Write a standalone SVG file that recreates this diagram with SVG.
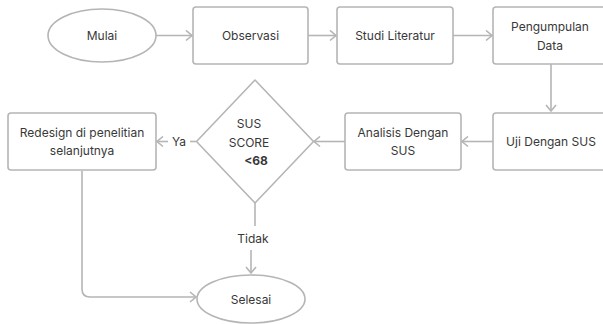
<svg xmlns="http://www.w3.org/2000/svg" width="603" height="324" viewBox="0 0 603 324">
  <style>
    .shape { fill: #ffffff; stroke: #b5b5b5; stroke-width: 1.6; }
    .edge { fill: none; stroke: #b5b5b5; stroke-width: 1.6; }
    .label { font-family: Inter, "Liberation Sans", sans-serif; font-size: 12px; fill: #383838; text-anchor: middle; }
    .bold { font-weight: 700; }
  </style>
  <defs>
    <marker id="chevron" viewBox="0 0 10 12" refX="9" refY="6" markerWidth="10" markerHeight="12" markerUnits="userSpaceOnUse" orient="auto">
      <path d="M3,1 L9,6 L3,11" fill="none" stroke="#b5b5b5" stroke-width="1.6"/>
    </marker>
  </defs>
  <rect width="603" height="324" fill="#ffffff"/>

  <g id="connectors">
    <path class="edge" d="M156,35.5 H192" marker-end="url(#chevron)"/>
    <path class="edge" d="M308,35.5 H336" marker-end="url(#chevron)"/>
    <path class="edge" d="M453,35.5 H492" marker-end="url(#chevron)"/>
    <path class="edge" d="M551,64 V111" marker-end="url(#chevron)"/>
    <path class="edge" d="M493,141.5 H462" marker-end="url(#chevron)"/>
    <path class="edge" d="M345,141.5 H314" marker-end="url(#chevron)"/>
    <path class="edge" d="M196,141.5 H190"/>
    <path class="edge" d="M168,141.5 H157" marker-end="url(#chevron)"/>
    <path class="edge" d="M255,203 V226"/>
    <path class="edge" d="M251,250 V273" marker-end="url(#chevron)"/>
    <path class="edge" d="M82,171 V289 Q82,297 90,297 H196" marker-end="url(#chevron)"/>
    <text class="label" x="179" y="146">Ya</text>
    <text class="label" x="253" y="243">Tidak</text>
  </g>

  <g id="mulai">
    <ellipse class="shape" cx="102" cy="35.5" rx="54" ry="26.5"/>
    <text class="label" x="102" y="40">Mulai</text>
  </g>

  <g id="observasi">
    <rect class="shape" x="193" y="7" width="115" height="57" rx="3"/>
    <text class="label" x="250.5" y="40">Observasi</text>
  </g>

  <g id="studi-literatur">
    <rect class="shape" x="337" y="7" width="116" height="57" rx="3"/>
    <text class="label" x="395" y="40">Studi Literatur</text>
  </g>

  <g id="pengumpulan-data">
    <rect class="shape" x="493" y="7" width="116" height="57" rx="3"/>
    <text class="label" x="550" y="31">Pengumpulan</text>
    <text class="label" x="550" y="50">Data</text>
  </g>

  <g id="uji-sus">
    <rect class="shape" x="493" y="113" width="116" height="57" rx="3"/>
    <text class="label" x="551" y="146">Uji Dengan SUS</text>
  </g>

  <g id="analisis-sus">
    <rect class="shape" x="345" y="113" width="116" height="57" rx="3"/>
    <text class="label" x="403" y="137">Analisis Dengan</text>
    <text class="label" x="403" y="155">SUS</text>
  </g>

  <g id="sus-score">
    <path class="shape" stroke-linejoin="round" d="M255,80 L313.5,141.5 L255,203 L196.5,141.5 Z"/>
    <text class="label" x="249" y="128">SUS</text>
    <text class="label" x="249" y="147">SCORE</text>
    <text class="label bold" x="256" y="165">&lt;68</text>
  </g>

  <g id="redesign">
    <rect class="shape" x="8" y="113" width="148" height="57" rx="3"/>
    <text class="label" x="82" y="137">Redesign di penelitian</text>
    <text class="label" x="82" y="155">selanjutnya</text>
  </g>

  <g id="selesai">
    <ellipse class="shape" cx="251" cy="299" rx="54" ry="24"/>
    <text class="label" x="251" y="304">Selesai</text>
  </g>
</svg>
